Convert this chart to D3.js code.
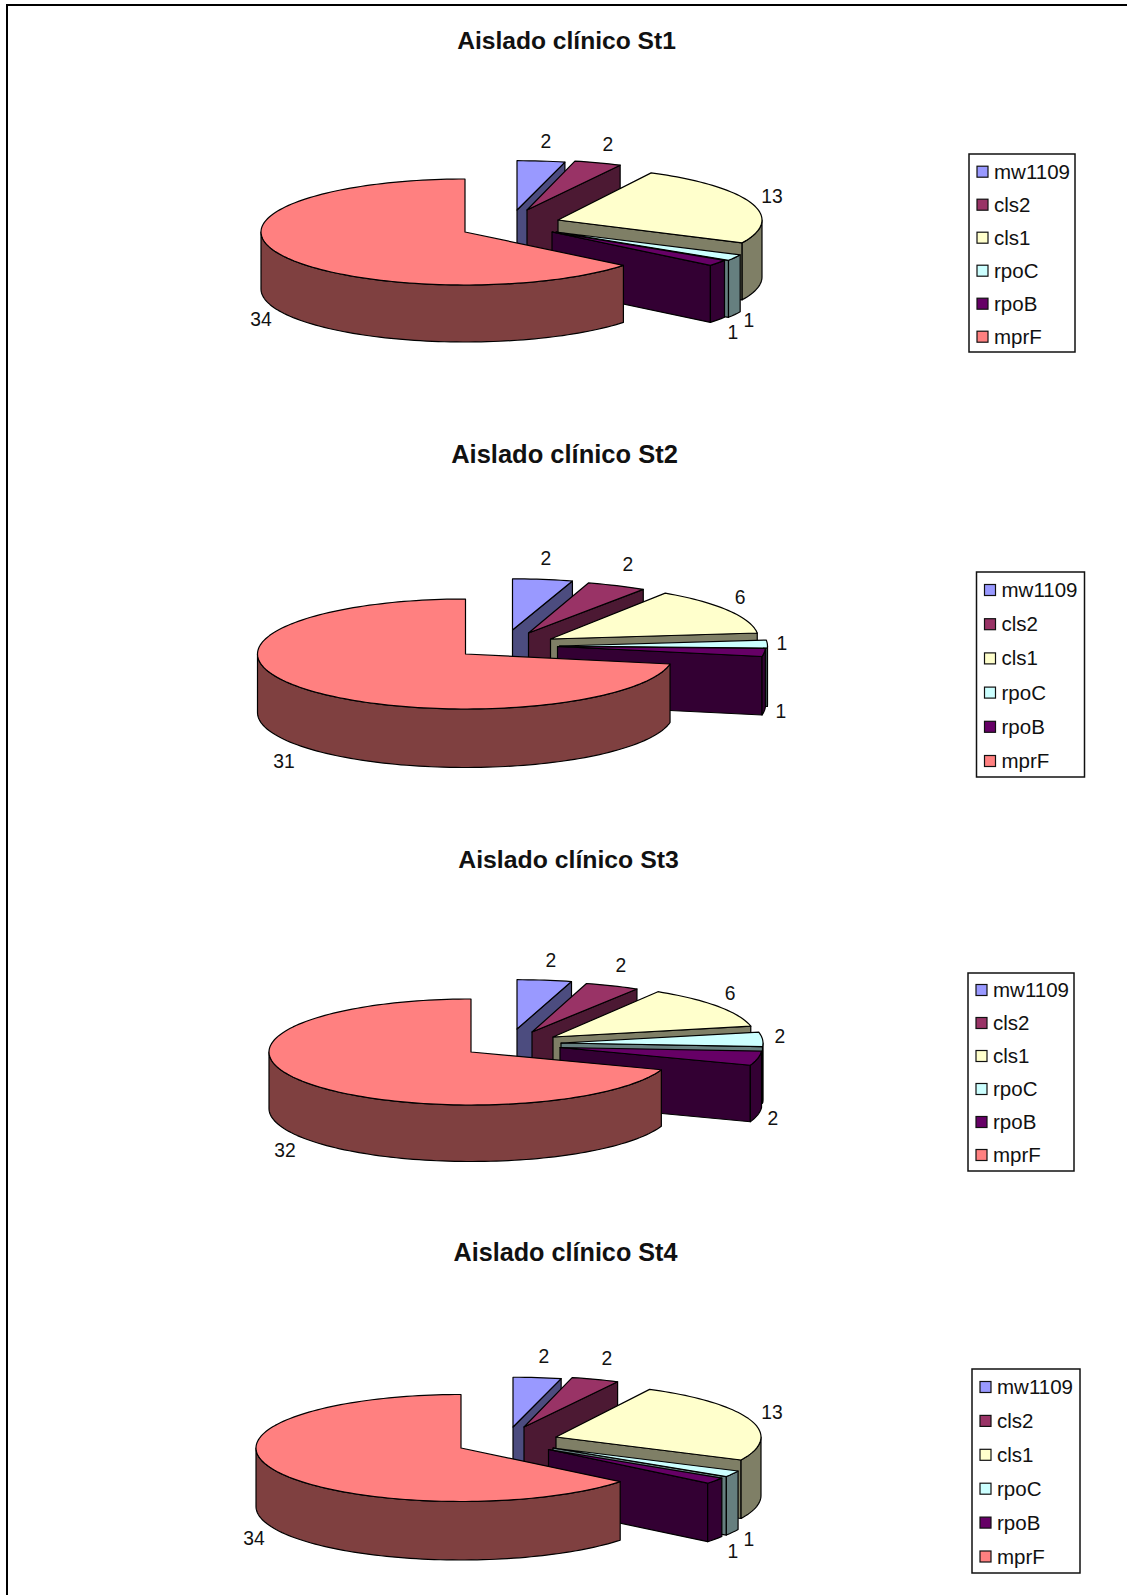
<!DOCTYPE html>
<html>
<head>
<meta charset="utf-8">
<script src="https://cdnjs.cloudflare.com/ajax/libs/d3/7.8.5/d3.min.js"></script>
<style>
html,body{margin:0;padding:0;background:#fff;}
svg{display:block;}
text{font-family:"Liberation Sans",Arial,sans-serif;fill:#111;}
</style>
</head>
<body>
<svg id="chart" width="1127" height="1595"></svg>
<script>
// Gene names, in slice order (clockwise from twelve o'clock)
const genes = ["mw1109", "cls2", "cls1", "rpoC", "rpoB", "mprF"];
const chartTitles = ["Aislado clínico St1", "Aislado clínico St2", "Aislado clínico St3", "Aislado clínico St4"];

// Counts per gene for each clinical isolate
const st1Counts = [2, 2, 13, 1, 1, 34];
const st2Counts = [2, 2, 6, 1, 1, 31];
const st3Counts = [2, 2, 6, 2, 2, 32];
const st4Counts = [2, 2, 13, 1, 1, 34];
const countsByChart = [st1Counts, st2Counts, st3Counts, st4Counts];

// Top face and shaded side colours
const topColours  = ["#9999FF", "#993366", "#FFFFCC", "#CCFFFF", "#660066", "#FF8080"];
const sideColours = ["#4C4C7F", "#4C1933", "#7F7F66", "#667F7F", "#330033", "#7F4040"];

// Far slices look shallower under the tilt
const backSquash = [0.93, 0.95, 1, 1, 1, 1];

// Pie placement and the displacement of each exploded slice
const layouts = [
  { cx: 465, cy: 232, rx: 204, ry: 53, depth: 57, titleX: 566.5, titleY: 40, titleSize: 24.6,
    explode: [[52,-22],[62,-22],[93,-12],[91,0],[87,0],[0,0]],
    labels: [[546,141],[608,144],[772,196],[749,320],[733,332],[261,319]],
    legend: { x: 969, y: 154, w: 106, h: 198, first: 171.7, step: 33 } },
  { cx: 465.5, cy: 654, rx: 208, ry: 55, depth: 58.5, titleX: 564.5, titleY: 454, titleSize: 25.5,
    explode: [[47,-24],[63,-21],[85,-15],[94,-8],[92,-7.5],[0,0]],
    labels: [[546,558],[628,564],[740,597],[782,643],[781,711],[284,761]],
    legend: { x: 976.5, y: 572, w: 108, h: 205, first: 590, step: 34.2 } },
  { cx: 471, cy: 1052, rx: 202, ry: 53, depth: 56.5, titleX: 568.5, titleY: 859, titleSize: 24.8,
    explode: [[46,-23],[61,-20],[82,-15],[90,-9],[89,-4.5],[0,0]],
    labels: [[551,960],[621,965],[730,993],[780,1036],[773,1118],[285,1150]],
    legend: { x: 968, y: 973, w: 106, h: 198, first: 990, step: 33 } },
  { cx: 461, cy: 1448, rx: 205, ry: 53.5, depth: 58.5, titleX: 565.5, titleY: 1252, titleSize: 25.2,
    explode: [[52,-21],[63,-21],[95,-11],[92,0],[87.5,1.5],[0,0]],
    labels: [[544,1356],[607,1358],[772,1412],[749,1539],[733,1551],[254,1538]],
    legend: { x: 972, y: 1369, w: 108, h: 204, first: 1387, step: 33.9 } }
];

const svg = d3.select("#chart");
const pie = d3.pie().sort(null).startAngle(0).endAngle(2 * Math.PI);
const line = d3.line();

// Frame along the top and left edges of the sheet
svg.append("path")
  .attr("d", line([[7, 1595], [7, 5], [1127, 5]]))
  .attr("fill", "none").attr("stroke", "#000").attr("stroke-width", 2);

function drawChart(counts, title, lay) {
  const g = svg.append("g");
  const arcs = pie(counts);

  arcs.forEach((arc, i) => {
    const ox = lay.cx + lay.explode[i][0];
    const oy = lay.cy + lay.explode[i][1];
    // Tilted projection of a point on the pie rim
    const rim = a => [ox + lay.rx * Math.sin(a), oy - lay.ry * backSquash[i] * Math.cos(a)];
    const drop = p => [p[0], p[1] + lay.depth];
    const apex = [ox, oy];
    const face = (pts, fill) => g.append("path")
      .attr("d", line(pts) + "Z")
      .attr("fill", fill).attr("stroke", "#000").attr("stroke-width", 1.2)
      .attr("stroke-linejoin", "round");

    const rimPoints = (a0, a1) => {
      const n = Math.max(2, Math.ceil((a1 - a0) / 0.03));
      return d3.range(n + 1).map(k => rim(a0 + (a1 - a0) * k / n));
    };

    // Radial cut at the trailing edge, visible while it faces the viewer
    if (arc.endAngle < Math.PI) {
      const e = rim(arc.endAngle);
      face([apex, e, drop(e), drop(apex)], sideColours[i]);
    }
    // Curved outer wall across the front half of the pie
    const w0 = Math.max(arc.startAngle, Math.PI / 2);
    const w1 = Math.min(arc.endAngle, 3 * Math.PI / 2);
    if (w1 > w0) {
      const upper = rimPoints(w0, w1);
      face(upper.concat(upper.map(drop).reverse()), sideColours[i]);
    }
    // Top face
    face([apex].concat(rimPoints(arc.startAngle, arc.endAngle)), topColours[i]);
  });

  // Value labels
  g.selectAll("text.value").data(counts).join("text")
    .attr("class", "value")
    .attr("x", (d, i) => lay.labels[i][0])
    .attr("y", (d, i) => lay.labels[i][1])
    .attr("text-anchor", "middle").attr("dominant-baseline", "central")
    .attr("transform", (d, i) => `translate(${lay.labels[i][0]},0) scale(0.92,1) translate(${-lay.labels[i][0]},0)`)
    .style("font-size", "21px")
    .text(d => d);

  // Title
  g.append("text")
    .attr("x", lay.titleX).attr("y", lay.titleY)
    .attr("text-anchor", "middle").attr("dominant-baseline", "central")
    .attr("font-weight", "bold").style("font-size", lay.titleSize + "px")
    .text(title);

  // Legend
  const lg = lay.legend;
  g.append("rect")
    .attr("x", lg.x).attr("y", lg.y).attr("width", lg.w).attr("height", lg.h)
    .attr("fill", "#fff").attr("stroke", "#111").attr("stroke-width", 1.5);
  const rows = g.selectAll("g.row").data(genes).join("g")
    .attr("class", "row")
    .attr("transform", (d, i) => `translate(${lg.x},${lg.first + i * lg.step})`);
  rows.append("rect")
    .attr("x", 8).attr("y", -5.5).attr("width", 11).attr("height", 11)
    .attr("fill", (d, i) => topColours[i]).attr("stroke", "#111").attr("stroke-width", 1.2);
  rows.append("text")
    .attr("x", 25).attr("y", -0.5).attr("dominant-baseline", "central")
    .style("font-size", "20.5px")
    .text(d => d);
}

chartTitles.forEach((t, i) => drawChart(countsByChart[i], t, layouts[i]));
</script>
</body>
</html>
